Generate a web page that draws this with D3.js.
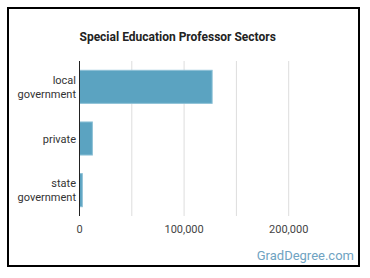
<!DOCTYPE html>
<html>
<head>
<meta charset="utf-8">
<script src="https://cdn.jsdelivr.net/npm/d3@7"></script>
<style>
  body { margin: 0; background: #fff; }
  svg { display: block; font-family: Roboto, "Open Sans", sans-serif; }
</style>
</head>
<body>
<script>
var sectors = ["local government", "private", "state government"];
var sectorLines = [["local", "government"], ["private"], ["state", "government"]];
var workers = [126800, 12300, 2700];
var tickValues = [0, 100000, 200000];
var gridValues = [50000, 100000, 150000, 200000];

var W = 370, H = 278;
var margin = {top: 61, right: 30, bottom: 62, left: 79.5};

var svg = d3.select("body").append("svg")
    .attr("width", W)
    .attr("height", H);

// frame
svg.append("rect")
    .attr("x", 8).attr("y", 8)
    .attr("width", 351).attr("height", 258)
    .attr("fill", "none")
    .attr("stroke", "#000")
    .attr("stroke-width", 2);

var x = d3.scaleLinear().domain([0, 50000]).range([margin.left, 131.8]);
var y = d3.scaleBand().domain(sectors).range([margin.top, H - margin.bottom]).paddingInner(0.36).paddingOuter(0.18);

svg.append("text")
    .attr("x", 79.5).attr("y", 41)
    .attr("font-size", 12).attr("font-weight", "bold")
    .attr("fill", "#222")
    .text("Special Education Professor Sectors");

// grid
svg.append("g").selectAll("line")
    .data(gridValues)
    .enter().append("line")
    .attr("x1", function(d){ return x(d); })
    .attr("x2", function(d){ return x(d); })
    .attr("y1", margin.top)
    .attr("y2", H - margin.bottom)
    .attr("stroke", "#ddd")
    .attr("stroke-width", 1);

// bars
svg.append("g").selectAll("rect")
    .data(workers)
    .enter().append("rect")
    .attr("x", x(0))
    .attr("y", function(d, i){ return y(sectors[i]); })
    .attr("width", function(d){ return x(d) - x(0); })
    .attr("height", y.bandwidth())
    .attr("fill", "#5ba3c1")
    .attr("stroke", "#8cc0d6")
    .attr("stroke-width", 1);

// y axis line
svg.append("line")
    .attr("x1", x(0)).attr("x2", x(0))
    .attr("y1", margin.top).attr("y2", H - margin.bottom)
    .attr("stroke", "#222").attr("stroke-width", 1);

// category labels
svg.append("g").selectAll("text")
    .data(sectors)
    .enter().append("text")
    .attr("text-anchor", "end")
    .attr("font-size", 11)
    .attr("fill", "#333")
    .attr("x", 76)
    .attr("y", function(d, i){
        var n = sectorLines[i].length;
        return y(d) + y.bandwidth() / 2 + 4 - (n - 1) * 6.8;
    })
    .each(function(d, i){
        var t = d3.select(this);
        sectorLines[i].forEach(function(s, j){
            t.append("tspan").attr("x", 76).attr("dy", j === 0 ? 0 : 13.6).text(s);
        });
    });

// tick labels
svg.append("g").selectAll("text")
    .data(tickValues)
    .enter().append("text")
    .attr("x", function(d){ return x(d); })
    .attr("y", 233)
    .attr("text-anchor", "middle")
    .attr("font-size", 11)
    .attr("fill", "#444")
    .text(function(d){ return d3.format(",")(d); });

svg.append("text")
    .attr("x", 354).attr("y", 260)
    .attr("text-anchor", "end")
    .attr("font-size", 13)
    .attr("fill", "#6fa3c2")
    .text("GradDegree.com");
</script>
</body>
</html>
